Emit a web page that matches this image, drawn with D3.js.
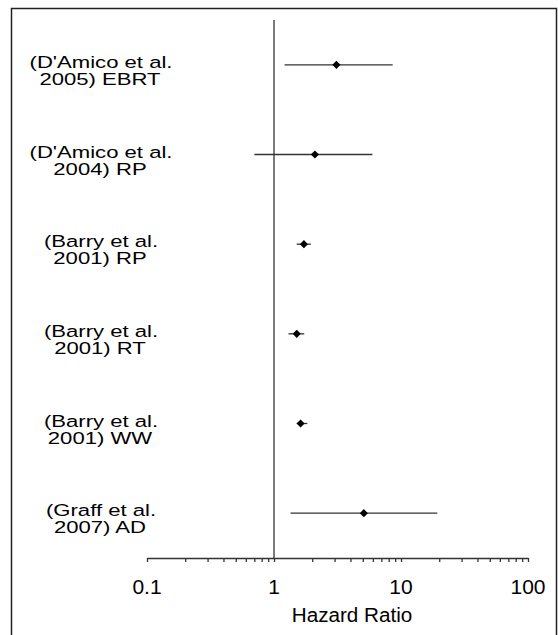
<!DOCTYPE html>
<html>
<head>
<meta charset="utf-8">
<script src="https://cdn.jsdelivr.net/npm/d3@7"></script>
<style>
  body { margin: 0; background: #fff; }
  svg { display: block; font-family: Arial, "Liberation Sans", Helvetica, sans-serif; }
</style>
</head>
<body>
<div id="grafico"></div>
<script>
// datos del forest plot
var estudios = ["D'Amico 2005 EBRT", "D'Amico 2004 RP", "Barry 2001 RP", "Barry 2001 RT", "Barry 2001 WW", "Graff 2007 AD"];
var linea1 = ["(D'Amico et al.", "(D'Amico et al.", "(Barry et al.", "(Barry et al.", "(Barry et al.", "(Graff et al."];
var linea2 = ["2005) EBRT", "2004) RP", "2001) RP", "2001) RT", "2001) WW", "2007) AD"];
var hr = [3.1, 2.1, 1.72, 1.51, 1.62, 5.1];
var inferior = [1.21, 0.70, 1.51, 1.30, 1.51, 1.35];
var superior = [8.6, 5.95, 1.95, 1.73, 1.83, 19.3];
var ticksMayores = [0.1, 1, 10, 100];

var width = 558,
    height = 635;

var svg = d3.select("#grafico").append("svg")
    .attr("width", width)
    .attr("height", height);

// marco
svg.append("path")
    .attr("d", "M11.5,640 V8.5 H556.5 V640")
    .attr("fill", "none")
    .attr("stroke", "#222")
    .attr("stroke-width", 1.5);

var x = d3.scaleLog()
    .domain([0.1, 100])
    .range([147, 528]);

var y = d3.scaleBand()
    .domain(estudios)
    .range([20, 558]);

var datos = estudios.map(function(d, i) {
  return { id: d, l1: linea1[i], l2: linea2[i], hr: hr[i], lo: inferior[i], hi: superior[i] };
});

// eje x con ticks menores
var ejeX = d3.axisBottom(x)
    .tickValues(d3.range(-1, 2).reduce(function(acc, e) {
      for (var k = 1; k <= 9; k++) acc.push(k * Math.pow(10, e));
      return acc;
    }, []).concat([100]))
    .tickSize(4)
    .tickSizeOuter(0)
    .tickFormat("");

var gEje = svg.append("g")
    .attr("transform", "translate(0,558)")
    .call(ejeX);
gEje.select(".domain").attr("stroke", "#333").attr("stroke-width", 1.3);
gEje.selectAll(".tick line").attr("stroke", "#333").attr("stroke-width", 1.3);

svg.selectAll(".etiquetaTick")
    .data(ticksMayores)
  .enter().append("text")
    .attr("class", "etiquetaTick")
    .attr("x", function(d) { return x(d); })
    .attr("y", 594)
    .attr("text-anchor", "middle")
    .style("font-size", "21px")
    .attr("fill", "#000")
    .text(function(d) { return d; });

svg.append("text")
    .attr("transform", "translate(352,622) scale(1.06,1)")
    .attr("text-anchor", "middle")
    .style("font-size", "19.5px")
    .attr("fill", "#000")
    .text("Hazard Ratio");

// linea de referencia en HR = 1
svg.append("line")
    .attr("x1", x(1)).attr("x2", x(1))
    .attr("y1", 20).attr("y2", 558)
    .attr("stroke", "#333")
    .attr("stroke-width", 1.3);

var fila = svg.selectAll(".fila")
    .data(datos)
  .enter().append("g")
    .attr("class", "fila")
    .attr("transform", function(d) { return "translate(0," + (y(d.id) + y.bandwidth() / 2) + ")"; });

fila.append("line")
    .attr("x1", function(d) { return x(d.lo); })
    .attr("x2", function(d) { return x(d.hi); })
    .attr("stroke", "#333")
    .attr("stroke-width", 1.3);

fila.append("path")
    .attr("d", d3.symbol().type(d3.symbolDiamond2).size(42))
    .attr("transform", function(d) { return "translate(" + x(d.hr) + ",0)"; })
    .attr("fill", "#000");

// etiquetas algo estiradas en horizontal, como en el original
fila.append("text")
    .attr("transform", "translate(101,3) scale(1.3,1)")
    .attr("text-anchor", "middle")
    .style("font-size", "17px")
    .attr("fill", "#000")
    .text(function(d) { return d.l1; });

fila.append("text")
    .attr("transform", "translate(100,20) scale(1.3,1)")
    .attr("text-anchor", "middle")
    .style("font-size", "17px")
    .attr("fill", "#000")
    .text(function(d) { return d.l2; });
</script>
</body>
</html>
